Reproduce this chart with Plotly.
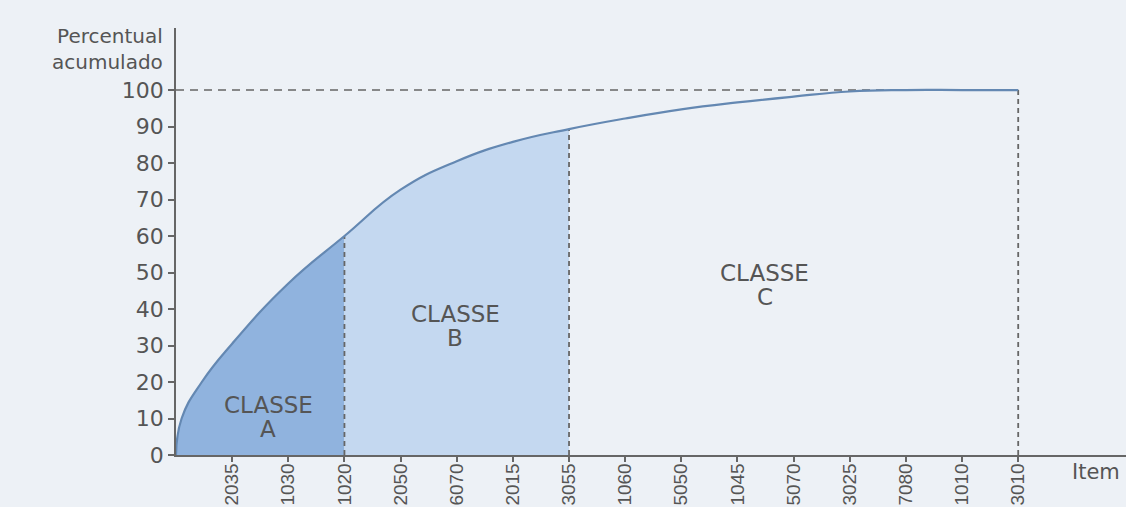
import plotly.graph_objects as go

# ---- data ----
items = ["2035", "1030", "1020", "2050", "6070", "2015", "3055", "1060",
         "5050", "1045", "5070", "3025", "7080", "1010", "3010"]
cum_pct = [30.5, 47, 60, 72.7, 80.5, 85.8, 89.3, 92.2, 94.7, 96.6, 98.2, 99.6, 100, 100, 100]
# read points of the steep start of the curve (between origin and first item)
start_x = [0, 0.1, 0.46]
start_y = [0, 10, 20]
y_ticks = [0, 10, 20, 30, 40, 50, 60, 70, 80, 90, 100]
class_a_end = "1020"
class_b_end = "3055"
class_word = "CLASSE"
class_letters = ["A", "B", "C"]
y_title = "Percentual<br>acumulado"
x_title = "Item"

# ---- derived positions ----
item_x = list(range(1, len(items) + 1))
ia = items.index(class_a_end)
ib = items.index(class_b_end)
xa, ya = item_x[ia], cum_pct[ia]
xb, yb = item_x[ib], cum_pct[ib]
xe, ye = item_x[-1], cum_pct[-1]

curve_x = start_x + item_x
curve_y = start_y + cum_pct

TXT = "#555555"
AX = "#666666"
FONT = "DejaVu Sans, Liberation Sans, Arial, sans-serif"
FONT2 = "Liberation Sans, Arial, sans-serif"
SM = 1.3

fig = go.Figure()

# class A fill
fig.add_trace(go.Scatter(
    x=start_x + item_x[:ia + 1], y=start_y + cum_pct[:ia + 1],
    mode="lines", line=dict(width=0, shape="spline", smoothing=SM),
    fill="tozeroy", fillcolor="#90b3de", hoverinfo="skip", showlegend=False))
# class B fill
fig.add_trace(go.Scatter(
    x=item_x[ia:ib + 1], y=cum_pct[ia:ib + 1],
    mode="lines", line=dict(width=0, shape="spline", smoothing=SM),
    fill="tozeroy", fillcolor="#c4d8f0", hoverinfo="skip", showlegend=False))

# dashed guides
hdash = dict(color=AX, width=1.5, dash="8px,6px")
vdash = dict(color=AX, width=1.8, dash="5px,4px")
fig.add_trace(go.Scatter(x=[0, xe], y=[ye, ye], mode="lines", line=hdash,
                         hoverinfo="skip", showlegend=False))
for gx, gy in [(xa, ya), (xb, yb), (xe, ye)]:
    fig.add_trace(go.Scatter(x=[gx, gx], y=[0, gy], mode="lines", line=vdash,
                             hoverinfo="skip", showlegend=False))

# cumulative curve
fig.add_trace(go.Scatter(
    x=curve_x, y=curve_y, mode="lines",
    line=dict(color="#6488b2", width=2.2, shape="spline", smoothing=SM),
    showlegend=False))

# class labels
lab_pos = [(1.64, 10.5), (4.97, 35.3), (10.49, 46.7)]
for (lx, ly), letter in zip(lab_pos, class_letters):
    fig.add_annotation(x=lx, y=ly, text=class_word, showarrow=False, yshift=12,
                       font=dict(family=FONT, size=23, color=TXT))
    fig.add_annotation(x=lx, y=ly, text=letter, showarrow=False, yshift=-12,
                       font=dict(family=FONT, size=23, color=TXT))

fig.add_annotation(xref="paper", yref="paper", x=0, y=1, xanchor="right",
                   yanchor="top", xshift=-11, yshift=6, text=y_title, align="right",
                   showarrow=False, font=dict(family=FONT, size=20, color=TXT))
fig.add_annotation(xref="paper", yref="y", x=1, y=0, xanchor="right", yanchor="middle",
                   xshift=-4, yshift=-17, text=x_title, showarrow=False,
                   font=dict(family=FONT, size=21, color=TXT))

fig.update_xaxes(range=[0, 16.92], tickvals=item_x, ticktext=items, tickangle=-90,
                 showgrid=False, zeroline=False, showline=True, linecolor=AX, linewidth=1.5,
                 ticks="outside", ticklen=5, tickcolor=AX, tickwidth=1.5, automargin=False,
                 ticklabelstandoff=-6,
                 tickfont=dict(family=FONT2, size=19, color=TXT))
fig.update_yaxes(range=[0, 117], tickvals=y_ticks, showgrid=False, zeroline=False,
                 showline=True, linecolor=AX, linewidth=1.5, automargin=False,
                 ticks="outside", ticklen=6, tickcolor=AX, tickwidth=1.5,
                 tickfont=dict(family=FONT, size=22, color=TXT))

fig.update_layout(width=1126, height=507, margin=dict(l=176, r=0, t=28, b=52),
                  paper_bgcolor="#edf1f6", plot_bgcolor="#edf1f6")

fig.write_html("out.html", config={"displayModeBar": False},
               post_script="document.body.style.margin='0';document.body.style.overflow='hidden';")
